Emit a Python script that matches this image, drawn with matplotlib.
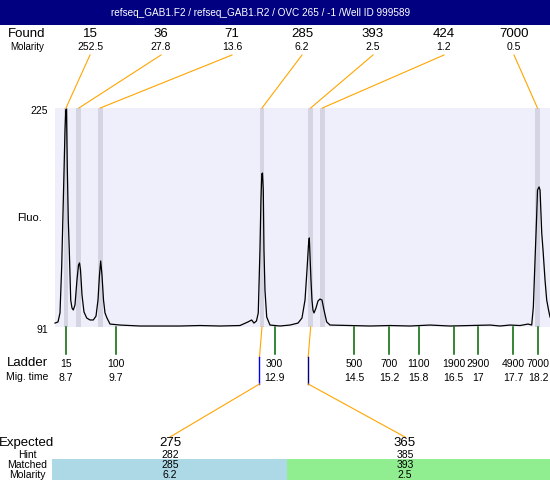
import matplotlib
matplotlib.use("Agg")
import matplotlib.pyplot as plt
from matplotlib.patches import Rectangle

plt.rcParams['font.family'] = ['Liberation Sans', 'DejaVu Sans']

# ---------------- data ----------------
title = "refseq_GAB1.F2 / refseq_GAB1.R2 / OVC 265 / -1 /Well ID 999589"

found_sizes = ["15", "36", "71", "285", "393", "424", "7000"]
found_molarity = ["252.5", "27.8", "13.6", "6.2", "2.5", "1.2", "0.5"]
found_times = [8.70, 8.96, 9.39, 12.645, 13.625, 13.86, 18.19]

ladder_sizes = ["15", "100", "300", "500", "700", "1100", "1900", "2900", "4900", "7000"]
ladder_times = [8.7, 9.7, 12.9, 14.5, 15.2, 15.8, 16.5, 17.0, 17.7, 18.2]
ladder_time_labels = ["8.7", "9.7", "12.9", "14.5", "15.2", "15.8", "16.5", "17", "17.7", "18.2"]

expected = ["275", "365"]
hint = ["282", "385"]
matched = ["285", "393"]
matched_molarity = ["6.2", "2.5"]
matched_peak_index = [3, 4]

fluo_min, fluo_max = 91, 225

trace_t = [8.479, 8.539, 8.579, 8.613, 8.646, 8.680, 8.696, 8.710, 8.726, 8.746,
           8.766, 8.795, 8.821, 8.847, 8.881, 8.921, 8.952, 8.972, 8.992, 9.022,
           9.062, 9.117, 9.183, 9.250, 9.304, 9.344, 9.374, 9.398, 9.424, 9.455,
           9.485, 9.525, 9.586, 9.787, 10.190, 10.592, 10.995, 11.397, 11.800, 12.202,
           12.363, 12.437, 12.484, 12.534, 12.570, 12.604, 12.624, 12.641, 12.655, 12.671,
           12.685, 12.705, 12.740, 12.806, 13.007, 13.209, 13.370, 13.450, 13.511, 13.551,
           13.581, 13.597, 13.611, 13.631, 13.651, 13.671, 13.692, 13.732, 13.772, 13.812,
           13.853, 13.893, 13.947, 14.014, 14.417, 14.819, 15.222, 15.624, 16.027, 16.429,
           16.832, 17.235, 17.436, 17.637, 17.839, 18.000, 18.074, 18.107, 18.141, 18.171,
           18.191, 18.222, 18.242, 18.276, 18.302, 18.342, 18.376, 18.413, 18.443]
trace_f = [93.4, 94.1, 99.6, 127.7, 168.7, 211.5, 223.8, 224.4, 188.9, 156.5,
           138.1, 107.5, 102.6, 101.4, 104.5, 119.8, 128.9, 130.2, 125.9, 110.6,
           100.2, 96.5, 95.3, 95.3, 97.7, 107.5, 122.8, 131.4, 122.8, 107.5,
           99.6, 96.5, 92.8, 92.2, 91.6, 91.6, 91.6, 91.9, 91.6, 91.9,
           94.1, 95.3, 93.4, 94.7, 99.6, 138.1, 168.7, 184.6, 185.2, 174.8,
           138.1, 113.6, 97.1, 92.2, 91.6, 92.2, 93.4, 96.5, 107.5, 125.9,
           141.2, 145.5, 135.1, 119.8, 107.5, 101.4, 99.6, 102.6, 106.9, 108.1,
           107.5, 101.4, 94.1, 92.2, 91.9, 91.6, 91.9, 91.6, 92.2, 91.6,
           91.9, 92.2, 91.6, 92.2, 91.9, 92.8, 92.2, 103.2, 132.0, 156.5,
           174.8, 176.7, 174.8, 148.5, 138.1, 119.8, 107.5, 101.4, 97.1]

# ---------------- figure ----------------
W, H = 550, 480
fig = plt.figure(figsize=(W / 100, H / 100), dpi=100)
fig.patch.set_facecolor('white')

# plot area in pixels
px_l, px_r, px_t, px_b = 55, 550, 108, 327
ax = fig.add_axes([px_l / W, (H - px_b) / H, (px_r - px_l) / W, (px_b - px_t) / H])
t0 = 8.7 - (66 - px_l) / 49.68
t1 = 8.7 + (px_r - 66) / 49.68
ax.set_xlim(t0, t1)
ax.set_ylim(fluo_min, fluo_max)
ax.set_facecolor('#efeffb')
for s in ax.spines.values():
    s.set_visible(False)
ax.set_xticks([])
ax.set_yticks([])
for t in found_times:
    ax.axvspan(t - 0.05, t + 0.05, color='#d4d4e2', lw=0, zorder=1)
ax.plot(trace_t, trace_f, color='black', lw=0.9, zorder=3, clip_on=False)

# overlay in pixel coordinates
ov = fig.add_axes([0, 0, 1, 1], facecolor='none')
ov.set_xlim(0, W)
ov.set_ylim(H, 0)
ov.axis('off')


def tx(t):
    disp = ax.transData.transform((t, fluo_min))
    return ov.transData.inverted().transform(disp)[0]


# title bar
ov.add_patch(Rectangle((0, 0), W, 25, color='#000080', lw=0))
ov.text(261, 12.5, title, color='white', fontsize=7.2, ha='center', va='center')

# found row
ov.text(27, 34, "Found", fontsize=9.5, ha='center', va='center')
ov.text(27, 47, "Molarity", fontsize=7, ha='center', va='center')
label_x = [90, 161, 232, 302, 373, 444, 514]
for lx, s, m, t in zip(label_x, found_sizes, found_molarity, found_times):
    ov.text(lx, 34, s, fontsize=9.5, ha='center', va='center')
    ov.text(lx, 47, m, fontsize=7.5, ha='center', va='center')
    ov.plot([lx, tx(t)], [55, px_t], color='orange', lw=0.8)

# y labels
ov.text(48, 111, "225", fontsize=7.5, ha='right', va='center')
ov.text(48, 330, "91", fontsize=7.5, ha='right', va='center')
ov.text(30, 218, "Fluo.", fontsize=8, ha='center', va='center')

# ladder
ov.text(27, 363, "Ladder", fontsize=9.5, ha='center', va='center')
ov.text(27, 377, "Mig. time", fontsize=7.5, ha='center', va='center')
for s, t, tl in zip(ladder_sizes, ladder_times, ladder_time_labels):
    x = tx(t)
    ov.plot([x, x], [px_b, 354], color='#006400', lw=1.1)
    ov.text(x, 364, s, fontsize=7.5, ha='center', va='center')
    ov.text(x, 378, tl, fontsize=7.5, ha='center', va='center')

# expected section
exp_x = [170, 405]
band_ranges = [(52, 287), (287, 550)]
band_colors = ['#add8e6', '#90ee90']
vert_colors = ['#0000ff', '#000080']
ov.text(27, 443, "Expected", fontsize=9.5, ha='center', va='center')
ov.text(27, 455, "Hint", fontsize=7.5, ha='center', va='center')
ov.text(27, 465, "Matched", fontsize=7.5, ha='center', va='center')
ov.text(27, 475, "Molarity", fontsize=7.5, ha='center', va='center')
for i in range(len(expected)):
    x0, x1 = band_ranges[i]
    ov.add_patch(Rectangle((x0, 459), x1 - x0, H - 459, color=band_colors[i], lw=0))
    ex = exp_x[i]
    ov.text(ex, 443, expected[i], fontsize=9.5, ha='center', va='center')
    ov.text(ex, 455, hint[i], fontsize=7.5, ha='center', va='center')
    ov.text(ex, 465, matched[i], fontsize=7.5, ha='center', va='center')
    ov.text(ex, 475, matched_molarity[i], fontsize=7.5, ha='center', va='center')
    bx = tx(found_times[matched_peak_index[i]])
    vx = bx - 2.5
    ov.plot([bx, vx], [px_b, 357], color='orange', lw=0.8)
    ov.plot([vx, vx], [357, 384], color=vert_colors[i], lw=1.0)
    ov.plot([vx, ex], [384, 437], color='orange', lw=0.8)

fig.savefig('out.png', dpi=100)
